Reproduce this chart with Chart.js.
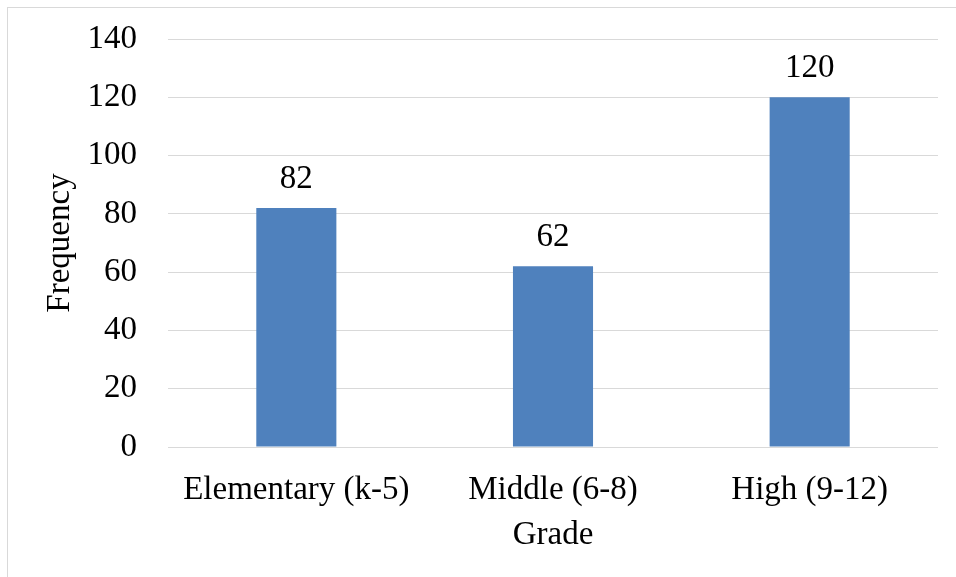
<!DOCTYPE html>
<html>
<head>
<meta charset="utf-8">
<script src="https://cdn.jsdelivr.net/npm/chart.js@4"></script>
<style>
  html, body { margin:0; padding:0; background:#fff; overflow:hidden; }
  #frame { position:absolute; left:7px; top:7px; width:1200px; height:900px; border:1px solid #d9d9d9; }
  #wrap { position:absolute; left:0; top:0; width:956px; height:577px; }
</style>
</head>
<body>
<div id="frame"></div>
<div id="wrap"><canvas id="chart"></canvas></div>
<script>
const categories = ["Elementary (k-5)", "Middle (6-8)", "High (9-12)"];
const frequency = [82, 62, 120];
const yTicks = [0, 20, 40, 60, 80, 100, 120, 140];

const FONT = "'Liberation Serif', 'Times New Roman', serif";
Chart.defaults.font.family = FONT;
Chart.defaults.font.size = 33;
Chart.defaults.color = "#000";

// value labels above each bar
const barLabels = {
  id: "barLabels",
  afterDatasetsDraw(chart){
    const ctx = chart.ctx;
    const meta = chart.getDatasetMeta(0);
    ctx.save();
    ctx.font = "33px " + FONT;
    ctx.fillStyle = "#000";
    ctx.textAlign = "center";
    ctx.textBaseline = "alphabetic";
    meta.data.forEach((bar, i) => {
      ctx.fillText(String(frequency[i]), bar.x, bar.y - 20);
    });
    ctx.restore();
  }
};

new Chart(document.getElementById("chart"), {
  type: "bar",
  data: {
    labels: categories,
    datasets: [{
      label: "Frequency",
      data: frequency,
      backgroundColor: "#4F81BD",
      borderWidth: 0,
      categoryPercentage: 1,
      barPercentage: 0.312
    }]
  },
  options: {
    responsive: true,
    maintainAspectRatio: false,
    animation: false,
    layout: { padding: { top: 39, right: 18, left: 0, bottom: 0 } },
    plugins: { legend: { display: false }, tooltip: { enabled: false } },
    scales: {
      x: {
        grid: { display: false },
        border: { display: false },
        ticks: { padding: 16, maxRotation: 0, autoSkip: false },
        title: { display: true, text: "Grade", padding: { top: 0, bottom: 22 } },
        afterFit(scale){ scale.height = 130; }
      },
      y: {
        min: 0,
        max: 140,
        afterBuildTicks(scale){ scale.ticks = yTicks.map(v => ({ value: v })); },
        grid: { color: "#d9d9d9", lineWidth: 1, drawTicks: false },
        border: { display: false },
        ticks: { padding: 31 },
        title: { display: true, text: "Frequency", padding: { top: 41, bottom: 0 } },
        afterFit(scale){
          scale.width = 168;
          scale.paddingTop = 0;
          scale.paddingBottom = 0;
        }
      }
    }
  },
  plugins: [barLabels]
});
</script>
</body>
</html>
